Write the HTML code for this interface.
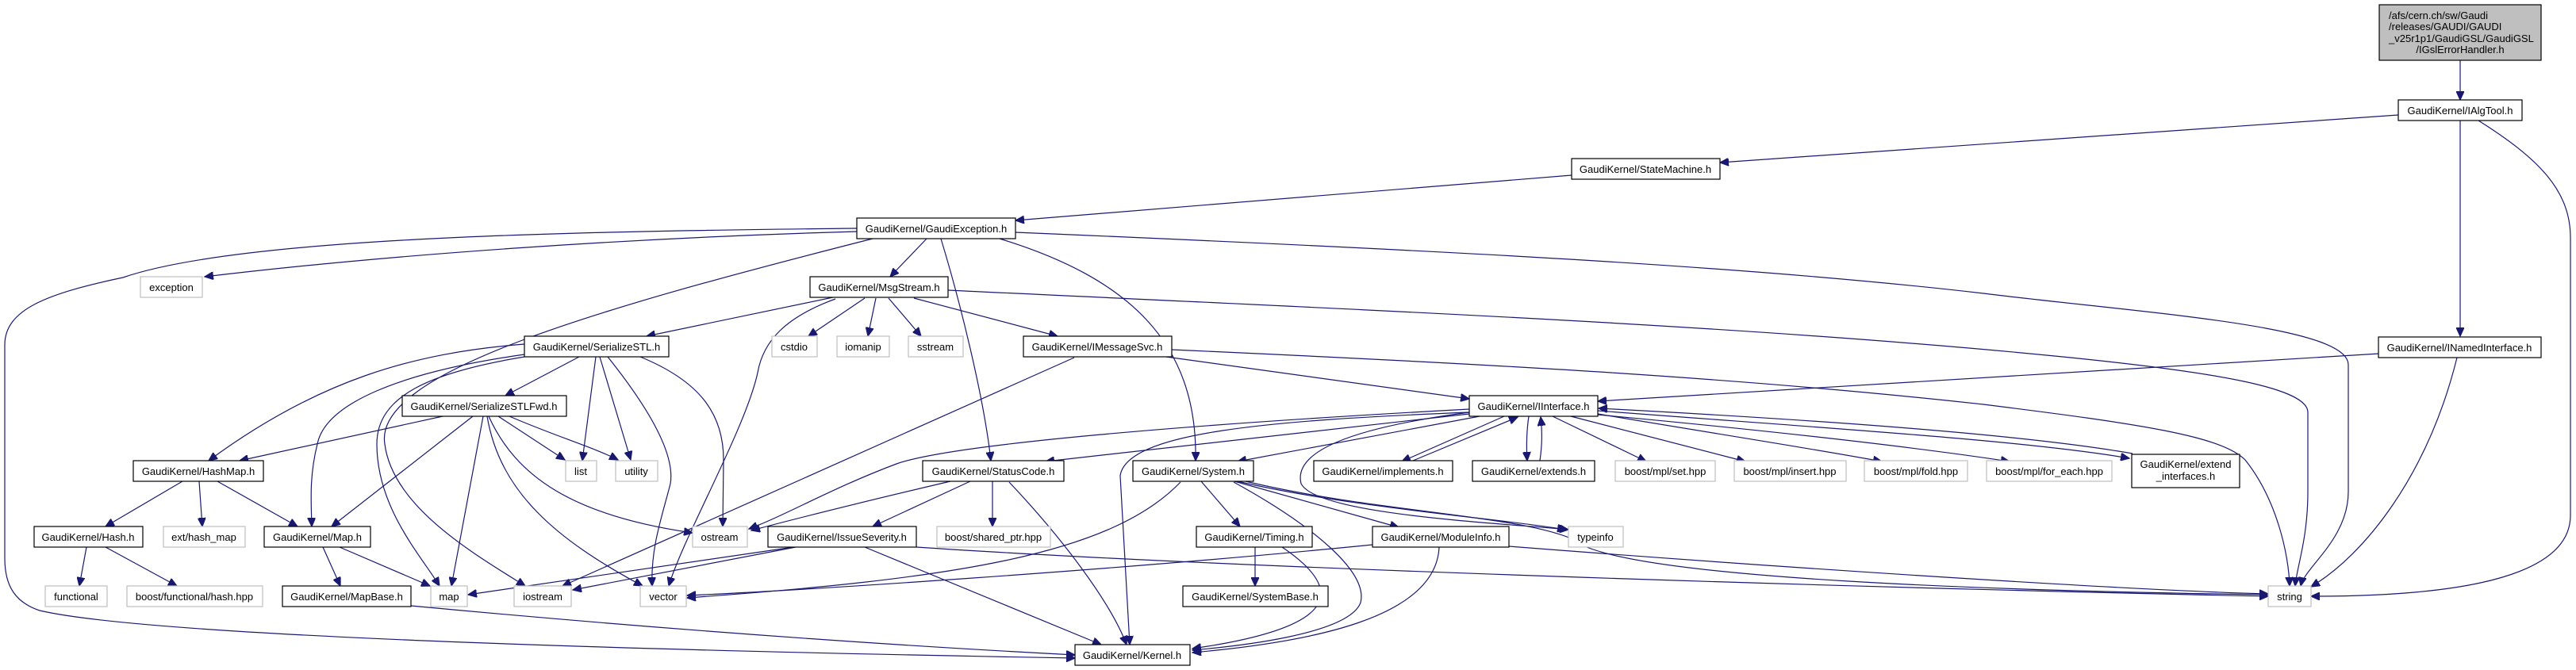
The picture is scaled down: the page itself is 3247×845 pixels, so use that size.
<!DOCTYPE html>
<html><head><meta charset="utf-8"><style>
html,body{margin:0;padding:0;background:#fff;}
svg{display:block;}
text{font-family:"Liberation Sans",sans-serif;font-size:13px;fill:#000;}
.h{fill:#fff;stroke:#000;stroke-width:1.2;}
.s{fill:#fff;stroke:#bfbfbf;stroke-width:1.2;}
path{fill:none;stroke:#191970;stroke-width:1.2;}
</style></head><body>
<svg width="3247" height="845" viewBox="0 0 3247 845" xmlns="http://www.w3.org/2000/svg">
<defs><marker id="a" markerWidth="12" markerHeight="10" refX="11" refY="5" orient="auto" markerUnits="userSpaceOnUse"><path d="M0,0 L11,5 L0,10 Z" style="fill:#191970;stroke:#191970"/></marker></defs>
<g marker-end="url(#a)">
<path d="M3101,76 L3101,126"/>
<path d="M3023,145 L2168,205"/>
<path d="M3101,152 L3101,424"/>
<path d="M3124,152 C3200,200 3240,240 3240,300 L3240,650 C3240,740 3050,752 2913,752"/>
<path d="M1981,221 L1280,278"/>
<path d="M1080,292 C800,300 500,320 258,349"/>
<path d="M1080,288 C700,292 300,300 155,350 C60,370 6,390 6,435 L6,704 C6,740 20,760 50,770 C200,805 900,822 1355,830"/>
<path d="M1100,301 C750,390 470,470 485,560 C495,640 600,700 662,739"/>
<path d="M1168,301 L1122,349"/>
<path d="M1186,301 C1210,380 1240,500 1249,581"/>
<path d="M1260,301 C1420,350 1510,430 1507,581"/>
<path d="M1280,293 C1800,315 2200,335 2500,370 C2700,395 2960,410 2960,460 L2960,620 C2960,680 2905,715 2900,739"/>
<path d="M1050,375 L815,424"/>
<path d="M1090,376 L1019,424"/>
<path d="M1104,376 L1094,424"/>
<path d="M1120,376 L1161,424"/>
<path d="M1152,376 L1333,424"/>
<path d="M1053,377 C990,400 962,430 955,470 C940,540 860,680 843,739"/>
<path d="M1195,366 C1700,390 2200,410 2600,450 C2800,470 2909,490 2909,520 L2909,620 C2909,680 2895,715 2893,739"/>
<path d="M1470,450 L1852,503"/>
<path d="M1354,451 L709,739"/>
<path d="M1477,441 C1900,460 2200,477 2500,510 C2700,535 2800,550 2830,580 C2870,630 2885,700 2886,739"/>
<path d="M2999,446 L2014,506"/>
<path d="M3097,451 C3060,600 2980,700 2913,740"/>
<path d="M661,434 C520,445 400,480 263,581"/>
<path d="M661,447 C500,470 410,510 400,560 C390,600 392,630 393,664"/>
<path d="M661,450 C540,470 475,500 475,560 C475,640 530,700 554,739"/>
<path d="M730,450 L637,499"/>
<path d="M751,450 L734,581"/>
<path d="M756,450 L795,580"/>
<path d="M766,450 C830,530 850,580 845,610 C835,650 820,690 822,739"/>
<path d="M807,450 C880,480 912,520 912,580 L911,664"/>
<path d="M558,525 L302,581"/>
<path d="M596,525 L418,664"/>
<path d="M609,525 L569,739"/>
<path d="M628,525 L712,580"/>
<path d="M642,525 C700,550 750,565 779,580"/>
<path d="M614,525 C630,620 700,680 810,739"/>
<path d="M616,525 C650,600 720,650 873,672"/>
<path d="M230,607 L133,664"/>
<path d="M251,607 L255,664"/>
<path d="M274,607 L375,664"/>
<path d="M109,690 L100,739"/>
<path d="M133,690 L223,739"/>
<path d="M407,690 L429,739"/>
<path d="M428,690 L542,739"/>
<path d="M518,764 C900,800 1200,818 1355,826"/>
<path d="M1852,516 C1500,535 1200,560 1130,585 C1050,615 990,650 944,667"/>
<path d="M1852,520 C1600,530 1420,545 1412,600 L1424,813"/>
<path d="M1852,522 L1318,582"/>
<path d="M1865,525 L1560,582"/>
<path d="M1896,525 L1767,582"/>
<path d="M1781,581 L1913,526"/>
<path d="M1927,525 C1924,545 1924,565 1925,581"/>
<path d="M1941,581 C1944,560 1944,545 1942,526"/>
<path d="M1957,525 L2075,582"/>
<path d="M1980,525 L2200,582"/>
<path d="M2014,522 C2150,545 2280,565 2372,582"/>
<path d="M2014,523 C2250,545 2420,565 2533,582"/>
<path d="M2014,518 C2300,540 2550,555 2684,578"/>
<path d="M2688,572 C2550,548 2300,530 2015,515"/>
<path d="M1852,520 C1700,540 1630,570 1640,610 C1660,650 1900,660 1977,668"/>
<path d="M1198,607 C1100,630 1000,655 947,669"/>
<path d="M1223,607 L1100,664"/>
<path d="M1251,607 L1251,664"/>
<path d="M1272,608 C1340,680 1400,760 1420,813"/>
<path d="M1000,690 L590,750"/>
<path d="M1003,690 L722,744"/>
<path d="M1090,690 L1388,813"/>
<path d="M1155,690 C1600,720 2500,745 2859,752"/>
<path d="M1514,607 L1563,664"/>
<path d="M1556,607 L1763,665"/>
<path d="M1560,607 C1700,640 1900,655 1974,668"/>
<path d="M1570,607 C1750,650 1950,650 2000,690 C2100,730 2500,745 2859,750"/>
<path d="M1555,608 C1650,660 1725,720 1715,760 C1700,800 1560,815 1503,820"/>
<path d="M1488,608 C1400,700 1200,730 866,754"/>
<path d="M1730,687 C1400,720 1000,745 866,751"/>
<path d="M1814,690 C1810,780 1650,810 1503,823"/>
<path d="M1902,689 C2300,720 2700,745 2859,749"/>
<path d="M1582,690 L1582,739"/>
<path d="M1616,690 C1690,740 1700,790 1503,818"/>
</g>
<rect x="2999" y="6" width="204" height="70" style="fill:#bfbfbf;stroke:#000;stroke-width:1.2"/>
<text x="3011" y="24">/afs/cern.ch/sw/Gaudi</text>
<text x="3011" y="38">/releases/GAUDI/GAUDI</text>
<text x="3011" y="53">_v25r1p1/GaudiGSL/GaudiGSL</text>
<text x="3101" y="67" text-anchor="middle">/IGslErrorHandler.h</text>
<g text-anchor="middle">
<rect class="h" x="3023" y="126" width="156" height="26"/><text x="3101" y="144">GaudiKernel/IAlgTool.h</text>
<rect class="h" x="1981" y="200" width="187" height="26"/><text x="2074" y="218">GaudiKernel/StateMachine.h</text>
<rect class="h" x="1080" y="275" width="200" height="26"/><text x="1180" y="293">GaudiKernel/GaudiException.h</text>
<rect class="h" x="1021" y="349" width="174" height="26"/><text x="1108" y="367">GaudiKernel/MsgStream.h</text>
<rect class="s" x="177" y="349" width="78" height="26"/><text x="216" y="367">exception</text>
<rect class="h" x="661" y="424" width="182" height="26"/><text x="752" y="442">GaudiKernel/SerializeSTL.h</text>
<rect class="s" x="973" y="424" width="57" height="26"/><text x="1001" y="442">cstdio</text>
<rect class="s" x="1055" y="424" width="66" height="26"/><text x="1088" y="442">iomanip</text>
<rect class="s" x="1145" y="424" width="69" height="26"/><text x="1179" y="442">sstream</text>
<rect class="h" x="1290" y="424" width="187" height="26"/><text x="1383" y="442">GaudiKernel/IMessageSvc.h</text>
<rect class="h" x="2998" y="425" width="205" height="26"/><text x="3100" y="443">GaudiKernel/INamedInterface.h</text>
<rect class="h" x="507" y="499" width="207" height="26"/><text x="610" y="517">GaudiKernel/SerializeSTLFwd.h</text>
<rect class="h" x="1852" y="499" width="162" height="26"/><text x="1933" y="517">GaudiKernel/IInterface.h</text>
<rect class="h" x="168" y="581" width="164" height="26"/><text x="250" y="599">GaudiKernel/HashMap.h</text>
<rect class="s" x="713" y="581" width="39" height="26"/><text x="732" y="599">list</text>
<rect class="s" x="776" y="581" width="53" height="26"/><text x="802" y="599">utility</text>
<rect class="h" x="1163" y="581" width="178" height="26"/><text x="1252" y="599">GaudiKernel/StatusCode.h</text>
<rect class="h" x="1428" y="581" width="152" height="26"/><text x="1504" y="599">GaudiKernel/System.h</text>
<rect class="h" x="1656" y="581" width="175" height="26"/><text x="1743" y="599">GaudiKernel/implements.h</text>
<rect class="h" x="1856" y="581" width="154" height="26"/><text x="1933" y="599">GaudiKernel/extends.h</text>
<rect class="s" x="2036" y="581" width="126" height="26"/><text x="2099" y="599">boost/mpl/set.hpp</text>
<rect class="s" x="2186" y="581" width="141" height="26"/><text x="2256" y="599">boost/mpl/insert.hpp</text>
<rect class="s" x="2350" y="581" width="130" height="26"/><text x="2415" y="599">boost/mpl/fold.hpp</text>
<rect class="s" x="2504" y="581" width="158" height="26"/><text x="2583" y="599">boost/mpl/for_each.hpp</text>
<rect class="h" x="2687" y="573" width="136" height="42"/><text x="2755" y="590">GaudiKernel/extend</text><text x="2755" y="605">_interfaces.h</text>
<rect class="h" x="43" y="664" width="137" height="26"/><text x="111" y="682">GaudiKernel/Hash.h</text>
<rect class="s" x="206" y="664" width="103" height="26"/><text x="257" y="682">ext/hash_map</text>
<rect class="h" x="333" y="664" width="134" height="26"/><text x="400" y="682">GaudiKernel/Map.h</text>
<rect class="s" x="873" y="664" width="69" height="26"/><text x="907" y="682">ostream</text>
<rect class="h" x="968" y="664" width="187" height="26"/><text x="1061" y="682">GaudiKernel/IssueSeverity.h</text>
<rect class="s" x="1181" y="664" width="143" height="26"/><text x="1252" y="682">boost/shared_ptr.hpp</text>
<rect class="h" x="1508" y="664" width="146" height="26"/><text x="1581" y="682">GaudiKernel/Timing.h</text>
<rect class="h" x="1730" y="664" width="172" height="26"/><text x="1816" y="682">GaudiKernel/ModuleInfo.h</text>
<rect class="s" x="1977" y="664" width="69" height="26"/><text x="2011" y="682">typeinfo</text>
<rect class="s" x="57" y="739" width="78" height="26"/><text x="96" y="757">functional</text>
<rect class="s" x="160" y="739" width="171" height="26"/><text x="245" y="757">boost/functional/hash.hpp</text>
<rect class="h" x="356" y="739" width="162" height="26"/><text x="437" y="757">GaudiKernel/MapBase.h</text>
<rect class="s" x="543" y="739" width="46" height="26"/><text x="566" y="757">map</text>
<rect class="s" x="648" y="739" width="72" height="26"/><text x="684" y="757">iostream</text>
<rect class="s" x="807" y="739" width="58" height="26"/><text x="836" y="757">vector</text>
<rect class="h" x="1491" y="739" width="183" height="26"/><text x="1582" y="757">GaudiKernel/SystemBase.h</text>
<rect class="s" x="2859" y="739" width="54" height="26"/><text x="2886" y="757">string</text>
<rect class="h" x="1355" y="813" width="145" height="26"/><text x="1427" y="831">GaudiKernel/Kernel.h</text>
</g>
</svg>
</body></html>
